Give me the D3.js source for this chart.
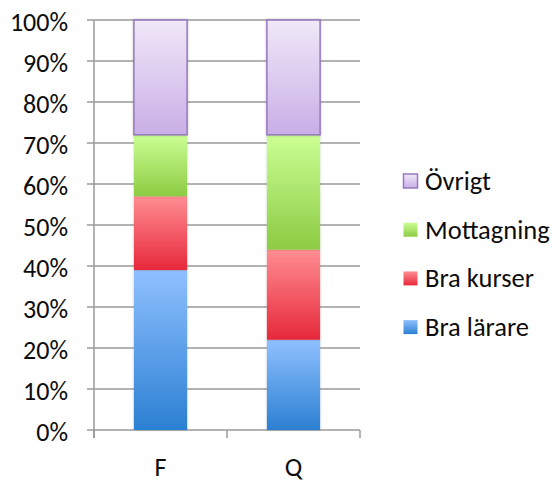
<!DOCTYPE html>
<html>
<head>
<meta charset="utf-8">
<script src="https://cdn.jsdelivr.net/npm/d3@7"></script>
<style>
  body { margin: 0; background: #fff; }
  text { font-family: Carlito, "Open Sans", sans-serif; fill: #0d0d0d; }
</style>
</head>
<body>
<svg id="chart" width="554" height="483"></svg>
<script>
// data (percent of each column)
var groups = ["F", "Q"];
var series = ["Bra lärare", "Bra kurser", "Mottagning", "Övrigt"];
var braLarare = [39, 22];
var braKurser = [18, 22];
var mottagning = [15, 28];
var ovrigt = [28, 28];
var yTicks = [0, 10, 20, 30, 40, 50, 60, 70, 80, 90, 100];

var colors = {
  "Bra lärare": ["#8fc0ff", "#2b80d2"],
  "Bra kurser": ["#ff8d92", "#e6283a"],
  "Mottagning": ["#cbff94", "#8ccb42"],
  "Övrigt": ["#f0e8f8", "#c9aee6"]
};

var rows = groups.map(function(g, i) {
  return {group: g, "Bra lärare": braLarare[i], "Bra kurser": braKurser[i],
          "Mottagning": mottagning[i], "Övrigt": ovrigt[i]};
});

var svg = d3.select("#chart"),
    margin = {top: 20, right: 194, bottom: 53, left: 94},
    width = 554 - margin.left - margin.right,
    height = 483 - margin.top - margin.bottom;

var defs = svg.append("defs");
series.forEach(function(s, i) {
  var gr = defs.append("linearGradient")
    .attr("id", "grad" + i)
    .attr("x1", 0).attr("y1", 0).attr("x2", 0).attr("y2", 1);
  gr.append("stop").attr("offset", "0%").attr("stop-color", colors[s][0]);
  gr.append("stop").attr("offset", "100%").attr("stop-color", colors[s][1]);
});
var shadow = defs.append("filter").attr("id", "shadow")
  .attr("x", "-20%").attr("y", "-5%").attr("width", "140%").attr("height", "110%");
shadow.append("feDropShadow").attr("dx", 0).attr("dy", 0)
  .attr("stdDeviation", 1.2).attr("flood-color", "#000").attr("flood-opacity", 0.25);

var g = svg.append("g").attr("transform", "translate(" + margin.left + "," + margin.top + ")");

var x = d3.scaleBand().domain(groups).range([0, width]).paddingInner(0.6).paddingOuter(0.3);
var y = d3.scaleLinear().domain([0, 100]).range([height, 0]);

// gridlines
g.append("g")
  .selectAll("line")
  .data(yTicks)
  .enter().append("line")
    .attr("x1", -7).attr("x2", width)
    .attr("y1", function(d) { return y(d); })
    .attr("y2", function(d) { return y(d); })
    .attr("stroke", "#9a9a9a")
    .attr("stroke-width", 1.5);

// y axis line
g.append("line")
  .attr("x1", 0).attr("x2", 0)
  .attr("y1", y(100)).attr("y2", height + 8)
  .attr("stroke", "#9a9a9a").attr("stroke-width", 1.5);

// x tick marks at category boundaries
var xStep = width / groups.length;
g.append("g")
  .selectAll("line")
  .data(d3.range(groups.length + 1))
  .enter().append("line")
    .attr("x1", function(d) { return d * xStep; })
    .attr("x2", function(d) { return d * xStep; })
    .attr("y1", height).attr("y2", height + 8)
    .attr("stroke", "#9a9a9a").attr("stroke-width", 1.5);

// y labels
g.append("g")
  .selectAll("text")
  .data(yTicks)
  .enter().append("text")
    .attr("x", -26)
    .attr("y", function(d) { return y(d) + 11; })
    .attr("text-anchor", "end")
    .style("font-size", "26px")
    .text(function(d) { return d + "%"; });

// x labels
g.append("g")
  .selectAll("text")
  .data(groups)
  .enter().append("text")
    .attr("x", function(d) { return x(d) + x.bandwidth() / 2; })
    .attr("y", height + 46)
    .attr("text-anchor", "middle")
    .style("font-size", "26px")
    .text(function(d) { return d; });

// stacked bars
var stacked = d3.stack().keys(series)(rows);

g.append("g")
  .selectAll("g")
  .data(stacked)
  .enter().append("g")
    .attr("fill", function(d, i) { return "url(#grad" + i + ")"; })
  .selectAll("rect")
  .data(function(d) { return d.map(function(v) { v.key = d.key; return v; }); })
  .enter().append("rect")
    .attr("x", function(d) { return x(d.data.group); })
    .attr("y", function(d) { return y(d[1]); })
    .attr("width", x.bandwidth())
    .attr("height", function(d) { return y(d[0]) - y(d[1]); })
    .attr("filter", "url(#shadow)")
    .attr("stroke", function(d) { return d.key === "Övrigt" ? "#9878be" : "none"; })
    .attr("stroke-width", 1.5);

// legend
var legend = svg.append("g").attr("transform", "translate(403,181)");
var legendItems = series.slice().reverse();
var item = legend.selectAll("g")
  .data(legendItems)
  .enter().append("g")
    .attr("transform", function(d, i) { return "translate(0," + (i * 48.7) + ")"; });

item.append("rect")
  .attr("x", 0.5).attr("y", -7)
  .attr("width", 14).attr("height", 14)
  .attr("fill", function(d) { return "url(#grad" + series.indexOf(d) + ")"; })
  .attr("stroke", function(d) { return d === "Övrigt" ? "#9878be" : "none"; })
  .attr("stroke-width", 1.5);

item.append("text")
  .attr("x", 22)
  .attr("y", 9)
  .style("font-size", "26.5px")
  .text(function(d) { return d; });
</script>
</body>
</html>
